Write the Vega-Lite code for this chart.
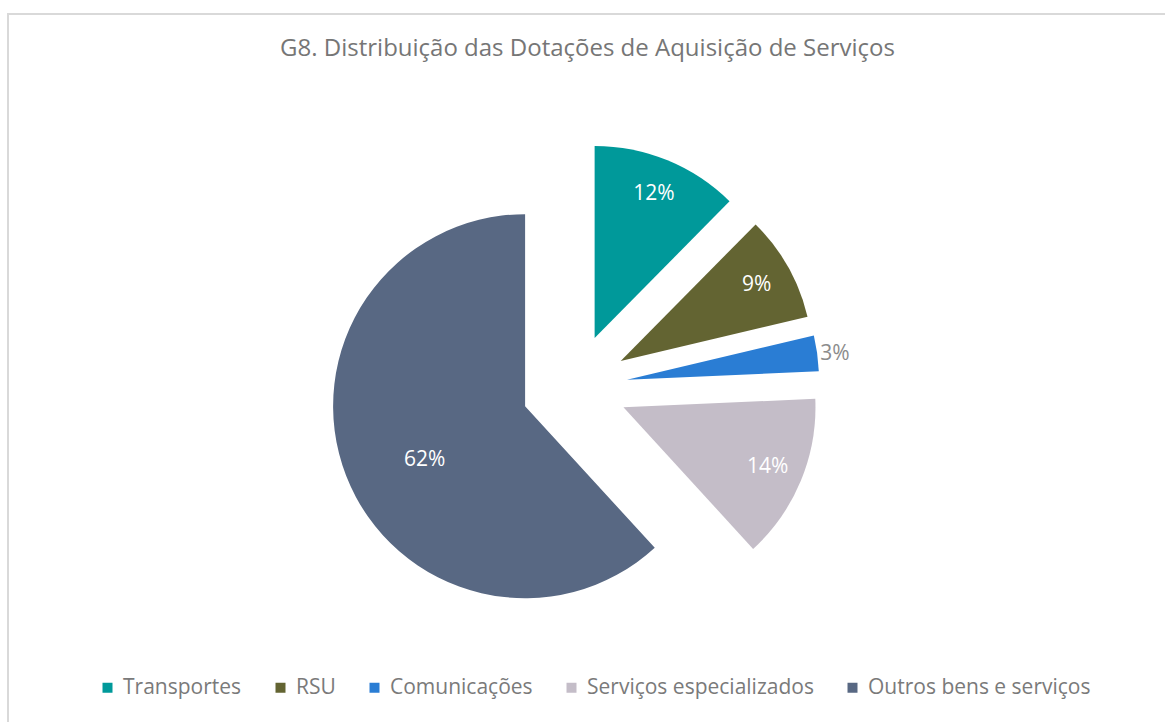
{
  "$schema": "https://vega.github.io/schema/vega-lite/v6.json",
  "width": 1159,
  "height": 710,
  "autosize": {"type": "none"},
  "padding": {"left": 8, "top": 14, "right": -2, "bottom": -2},
  "background": "white",
  "config": {
    "view": {"stroke": "#d9d9d9", "strokeWidth": 2},
    "font": "Open Sans"
  },
  "title": {
    "text": "G8. Distribuição das Dotações de Aquisição de Serviços",
    "orient": "top",
    "anchor": "middle",
    "frame": "group",
    "offset": -47,
    "fontSize": 24,
    "fontWeight": "normal",
    "color": "#767676",
    "font": "Open Sans"
  },
  "data": {
    "values": [
      {"categoria": "Transportes", "ord": 1, "share": 0.124},
      {"categoria": "RSU", "ord": 2, "share": 0.089},
      {"categoria": "Comunicações", "ord": 3, "share": 0.030},
      {"categoria": "Serviços especializados", "ord": 4, "share": 0.139},
      {"categoria": "Outros bens e serviços", "ord": 5, "share": 0.618}
    ]
  },
  "transform": [
    {"window": [{"op": "sum", "field": "share", "as": "t1"}], "sort": [{"field": "ord"}], "frame": [null, 0]},
    {"calculate": "datum.t1 - datum.share", "as": "t0"},
    {"calculate": "(datum.t0 + datum.t1) / 2", "as": "tm"},
    {"calculate": "sin(PI * (datum.t0 + datum.t1))", "as": "ex"},
    {"calculate": "cos(PI * (datum.t0 + datum.t1))", "as": "ey"}
  ],
  "encoding": {
    "x": {"field": "ex", "type": "quantitative", "scale": {"domain": [-1, 1], "range": [513.5, 619.5], "nice": false, "zero": false}, "axis": null},
    "y": {"field": "ey", "type": "quantitative", "scale": {"domain": [-1, 1], "range": [426, 320], "nice": false, "zero": false}, "axis": null}
  },
  "layer": [
    {
      "mark": {"type": "arc", "radius": 192},
      "encoding": {
        "theta": {"field": "t0", "type": "quantitative", "stack": null, "scale": {"domain": [0, 1], "range": [0, 6.283185307]}},
        "theta2": {"field": "t1"},
        "color": {
          "field": "categoria",
          "type": "nominal",
          "scale": {
            "domain": ["Transportes", "RSU", "Comunicações", "Serviços especializados", "Outros bens e serviços"],
            "range": ["#00999A", "#636432", "#2A7DD4", "#C4BDC8", "#586883"]
          },
          "legend": {
            "orient": "none",
            "direction": "horizontal",
            "columns": 5,
            "legendX": 89,
            "legendY": 663,
            "title": null,
            "symbolType": "square",
            "symbolSize": 100,
            "symbolStrokeWidth": 0,
            "labelFontSize": 21,
            "labelColor": "#7a7a7a",
            "labelFont": "Open Sans",
            "labelLimit": 400,
            "columnPadding": 28,
            "labelOffset": 5
          }
        }
      }
    },
    {
      "transform": [{"filter": "datum.ord <= 2 || datum.ord == 4"}],
      "mark": {"type": "text", "radius": 156, "fontSize": 21, "color": "white", "align": "center", "baseline": "middle", "font": "Open Sans"},
      "encoding": {
        "theta": {"field": "tm", "type": "quantitative", "stack": null, "scale": {"domain": [0, 1], "range": [0, 6.283185307]}},
        "text": {"field": "share", "type": "quantitative", "format": ".0%"}
      }
    },
    {
      "transform": [{"filter": "datum.ord == 5"}],
      "mark": {"type": "text", "radius": 113, "fontSize": 21, "color": "white", "align": "center", "baseline": "middle", "font": "Open Sans", "dx": 5, "dy": 13},
      "encoding": {
        "theta": {"field": "tm", "type": "quantitative", "stack": null, "scale": {"domain": [0, 1], "range": [0, 6.283185307]}},
        "text": {"field": "share", "type": "quantitative", "format": ".0%"}
      }
    },
    {
      "transform": [{"filter": "datum.ord == 3"}],
      "mark": {"type": "text", "radius": 210, "fontSize": 21, "color": "#8c8c8c", "align": "center", "baseline": "middle", "font": "Open Sans", "dy": 3},
      "encoding": {
        "theta": {"field": "tm", "type": "quantitative", "stack": null, "scale": {"domain": [0, 1], "range": [0, 6.283185307]}},
        "text": {"field": "share", "type": "quantitative", "format": ".0%"}
      }
    }
  ]
}
